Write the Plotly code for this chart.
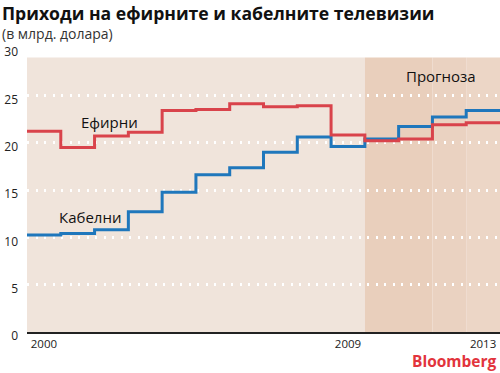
import plotly.graph_objects as go

years = list(range(2000, 2014))
efirni = [21.2, 19.5, 20.7, 21.1, 23.4, 23.5, 24.1, 23.8, 23.9, 20.8, 20.2, 20.4, 21.9, 22.1]
kabelni = [10.25, 10.4, 10.8, 12.7, 14.75, 16.6, 17.35, 19.0, 20.6, 19.6, 20.4, 21.7, 22.7, 23.4]
y_ticks = [0, 5, 10, 15, 20, 25, 30]
x_ticks = [2000, 2009, 2013]
forecast_start = 2010

RED = "#d9434b"
BLUE = "#1f77bc"

def steps(vals):
    xs = [y - 0.5 for y in years] + [years[-1] + 0.5]
    ys = list(vals) + [vals[-1]]
    return xs, ys

fig = go.Figure()
for vals, col in [(kabelni, BLUE), (efirni, RED)]:
    xs, ys = steps(vals)
    fig.add_trace(go.Scatter(x=xs, y=ys, mode="lines", line=dict(color=col, width=3, shape="hv"),
                             hoverinfo="skip", showlegend=False))

x0 = years[0] - 0.5
x1 = years[-1] + 0.5
top = 29.0
# background bands
fig.add_shape(type="rect", xref="x", yref="y", x0=x0, x1=forecast_start - 0.5, y0=0, y1=top,
              fillcolor="#f0e4db", line_width=0, layer="below")
fig.add_shape(type="rect", xref="x", yref="y", x0=forecast_start - 0.5, x1=2011.5, y0=0, y1=top,
              fillcolor="#e9cfbc", line_width=0, layer="below")
fig.add_shape(type="rect", xref="x", yref="y", x0=2011.5, x1=2012.5, y0=0, y1=top,
              fillcolor="#ead2c1", line_width=0, layer="below")
fig.add_shape(type="rect", xref="x", yref="y", x0=2012.5, x1=x1, y0=0, y1=top,
              fillcolor="#ecd6c6", line_width=0, layer="below")

fig.add_annotation(x=2001.95, y=22.2, text="Ефирни", showarrow=False,
                   font=dict(size=15, color="#111", family="Open Sans"))
fig.add_annotation(x=2001.36, y=12.2, text="Кабелни", showarrow=False,
                   font=dict(size=15, color="#111", family="Open Sans"))
fig.add_annotation(x=2011.75, y=27.0, text="Прогноза", showarrow=False,
                   font=dict(size=15, color="#111", family="Open Sans"))

PH = 284.0
PW = 473.0
def py(ypix):
    return (332.3 - ypix) / PH

# title / subtitle / source
fig.add_annotation(xref="paper", yref="paper", x=-27 / PW, y=py(13), xanchor="left", yanchor="middle",
                   text="<b>Приходи на ефирните и кабелните телевизии</b>", showarrow=False,
                   font=dict(size=17.6, color="#111", family="Open Sans"))
fig.add_annotation(xref="paper", yref="paper", x=-27 / PW, y=py(34), xanchor="left", yanchor="middle",
                   text="(в млрд. долара)", showarrow=False,
                   font=dict(size=14, color="#333", family="Open Sans"))
fig.add_annotation(xref="paper", yref="paper", x=1.0, y=py(373), xanchor="right", yanchor="bottom",
                   xshift=-2, borderpad=0, text="<b>Bloomberg</b>", showarrow=False,
                   font=dict(size=15.5, color="#e2343c", family="Open Sans"))

fig.update_layout(
    width=500, height=373,
    margin=dict(l=27, r=0, t=48, b=41, autoexpand=False),
    paper_bgcolor="white", plot_bgcolor="white",
    showlegend=False,
    xaxis=dict(range=[x0, x1], tickvals=x_ticks, ticktext=[str(v) for v in x_ticks],
               showgrid=False, zeroline=False, showline=True, linecolor="#222", linewidth=1.5,
               ticks="", tickfont=dict(size=11.5, color="#222", family="Open Sans"), fixedrange=True,
               automargin=False, ticklabelstandoff=0),
    yaxis=dict(range=[0, 30], tickvals=y_ticks, showgrid=True, gridcolor="white", gridwidth=2.5,
               griddash="2px,6.5px", zeroline=False, showline=False, ticks="",
               tickfont=dict(size=12, color="#222", family="Open Sans"), ticklabelstandoff=8,
               ticklabelshift=4, fixedrange=True, automargin=False),
)

fig.write_html("out.html", config={"displayModeBar": False},
               post_script="document.body.style.margin='0';document.body.style.overflow='hidden';")
